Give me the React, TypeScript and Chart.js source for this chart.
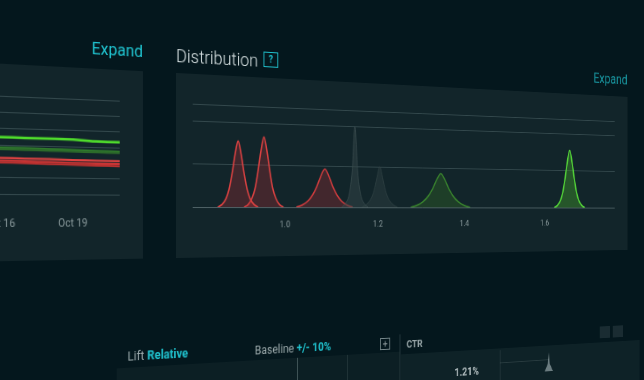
import React, { useEffect, useRef } from "react";
import { Chart, registerables } from "chart.js";

Chart.register(...registerables);

// ---------- Distribution chart data ----------
const xTickValues = [1.0, 1.2, 1.4, 1.6];
const distXMin = 0.816;
const distXMax = 1.786;
const distYMax = 2.4;

const red1 = [[0.865, 0], [0.873, 0.06], [0.881, 0.2], [0.887, 0.42], [0.893, 0.8], [0.899, 1.25], [0.905, 1.56], [0.911, 1.25], [0.917, 0.8], [0.923, 0.42], [0.929, 0.2], [0.937, 0.06], [0.945, 0]];
const red2 = [[0.917, 0], [0.925, 0.06], [0.933, 0.22], [0.939, 0.45], [0.945, 0.86], [0.951, 1.35], [0.957, 1.68], [0.963, 1.35], [0.969, 0.86], [0.975, 0.45], [0.981, 0.22], [0.989, 0.06], [0.997, 0]];
const red3 = [[1.024, 0], [1.036, 0.05], [1.048, 0.15], [1.058, 0.3], [1.066, 0.48], [1.074, 0.72], [1.084, 0.935], [1.094, 0.72], [1.102, 0.48], [1.11, 0.3], [1.12, 0.15], [1.132, 0.05], [1.144, 0]];
const gray1 = [[1.12, 0], [1.13, 0.12], [1.137, 0.35], [1.143, 0.9], [1.149, 2.0], [1.155, 0.9], [1.161, 0.35], [1.168, 0.12], [1.178, 0]];
const gray2 = [[1.164, 0], [1.175, 0.08], [1.186, 0.25], [1.193, 0.5], [1.199, 0.82], [1.204, 1.02], [1.209, 0.82], [1.215, 0.5], [1.222, 0.25], [1.233, 0.08], [1.244, 0]];
const green1 = [[1.274, 0], [1.288, 0.05], [1.302, 0.14], [1.314, 0.28], [1.324, 0.46], [1.334, 0.7], [1.344, 0.865], [1.354, 0.7], [1.364, 0.46], [1.374, 0.28], [1.386, 0.14], [1.4, 0.05], [1.414, 0]];
const green2 = [[1.625, 0], [1.633, 0.06], [1.641, 0.2], [1.647, 0.42], [1.653, 0.8], [1.659, 1.25], [1.665, 1.55], [1.671, 1.25], [1.677, 0.8], [1.683, 0.42], [1.689, 0.2], [1.697, 0.06], [1.705, 0]];

// ---------- Trend chart data (left panel) ----------
const trendDates = ["Oct 10", "Oct 11", "Oct 12", "Oct 13", "Oct 14", "Oct 15", "Oct 16", "Oct 17", "Oct 18", "Oct 19", "Oct 20", "Oct 21"];
const trendGreen = [3.52, 3.5, 3.51, 3.5, 3.49, 3.48, 3.47, 3.46, 3.45, 3.44, 3.36, 3.34];
const trendDarkGreenA = [2.9, 2.89, 2.88, 2.87, 2.86, 2.85, 2.84, 2.83, 2.81, 2.79, 2.76, 2.74];
const trendDarkGreenB = [2.8, 2.79, 2.78, 2.77, 2.76, 2.75, 2.74, 2.73, 2.71, 2.69, 2.67, 2.65];
const trendRedA = [2.26, 2.25, 2.24, 2.23, 2.22, 2.21, 2.2, 2.19, 2.18, 2.16, 2.14, 2.13];
const trendRedB = [2.1, 2.09, 2.08, 2.07, 2.06, 2.05, 2.04, 2.02, 2.0, 1.98, 1.96, 1.95];
const trendRedC = [1.98, 1.97, 1.96, 1.95, 1.95, 1.94, 1.93, 1.91, 1.88, 1.86, 1.83, 1.81];

const BG = "#04171d";
const PANEL = "#12252a";
const TEAL = "#1fc3cf";
const GRID = "rgba(120,145,148,0.32)";

const pts = (arr: number[][]) => arr.map(([x, y]) => ({ x, y }));

function DistributionChart() {
  const ref = useRef<HTMLCanvasElement | null>(null);
  useEffect(() => {
    if (!ref.current) return;
    const peak = (data: number[][], border: string, fill: string, bw = 1.6) => ({
      data: pts(data),
      borderColor: border,
      backgroundColor: fill,
      fill: "origin",
      pointRadius: 0,
      borderWidth: bw,
      cubicInterpolationMode: "monotone" as const,
    });
    const chart = new Chart(ref.current, {
      type: "line",
      data: {
        datasets: [
          peak(gray1, "rgba(62,80,82,0.7)", "rgba(50,68,70,0.55)", 1),
          peak(gray2, "rgba(52,70,72,0.7)", "rgba(42,60,62,0.55)", 1),
          peak(red1, "#dc4242", "rgba(180,48,52,0.3)"),
          peak(red2, "#dc4242", "rgba(180,48,52,0.3)"),
          peak(red3, "#d03c3e", "rgba(180,48,52,0.3)"),
          peak(green1, "#3a852e", "rgba(50,105,38,0.38)"),
          peak(green2, "#52d038", "rgba(66,155,44,0.42)", 2),
        ],
      },
      options: {
        animation: false,
        responsive: false,
        maintainAspectRatio: false,
        layout: { padding: { left: 18, right: 20, top: 30, bottom: 21 } },
        plugins: { legend: { display: false }, tooltip: { enabled: false } },
        scales: {
          x: {
            type: "linear",
            min: distXMin,
            max: distXMax,
            grid: { display: false },
            border: { display: false },
            afterBuildTicks: (axis: any) => {
              axis.ticks = xTickValues.map((v) => ({ value: v }));
            },
            afterFit: (s: any) => {
              s.height = 30;
            },
            ticks: {
              color: "#8a9a9c",
              padding: 5,
              font: { size: 9, family: "Roboto" },
              callback: (v: any) => Number(v).toFixed(1),
            },
          },
          y: {
            min: 0,
            max: distYMax,
            afterFit: (s: any) => {
              s.width = 0;
            },
            ticks: { display: false, stepSize: 1 },
            border: { display: false },
            grid: {
              drawTicks: false,
              color: (c: any) => (c.tick && c.tick.value === 0 ? "rgba(140,160,162,0.5)" : GRID),
            },
          },
        },
      },
    });
    return () => chart.destroy();
  }, []);
  return <canvas ref={ref} width={585} height={185} style={{ display: "block" }} />;
}

function TrendChart() {
  const ref = useRef<HTMLCanvasElement | null>(null);
  useEffect(() => {
    if (!ref.current) return;
    const line = (data: number[], color: string, bw = 2) => ({
      data,
      borderColor: color,
      backgroundColor: color,
      pointRadius: 0,
      borderWidth: bw,
      tension: 0.2,
    });
    const chart = new Chart(ref.current, {
      type: "line",
      data: {
        labels: trendDates,
        datasets: [
          line(trendRedC, "#b8302f"),
          line(trendRedB, "#c83535"),
          line(trendRedA, "#e04242"),
          line(trendDarkGreenB, "#2c6a2a"),
          line(trendDarkGreenA, "#2f7a2c"),
          line(trendGreen, "#4fdc2c", 2.5),
        ],
      },
      options: {
        animation: false,
        responsive: false,
        maintainAspectRatio: false,
        layout: { padding: { left: 118, right: 24, top: 30, bottom: 23 } },
        plugins: { legend: { display: false }, tooltip: { enabled: false } },
        scales: {
          x: {
            grid: { display: false },
            border: { display: false },
            afterFit: (s: any) => {
              s.height = 40;
            },
            ticks: {
              autoSkip: false,
              maxRotation: 0,
              color: "#8a9a9c",
              padding: 14,
              font: { size: 10, family: "Roboto" },
              callback: (_v: any, i: number) => (i % 3 === 0 ? trendDates[i] : ""),
            },
          },
          y: {
            min: 0,
            max: 6,
            afterFit: (s: any) => {
              s.width = 0;
            },
            ticks: { display: false, stepSize: 1 },
            border: { display: false },
            grid: { drawTicks: false, color: GRID },
          },
        },
      },
    });
    return () => chart.destroy();
  }, []);
  return <canvas ref={ref} width={401} height={185} style={{ display: "block" }} />;
}

const abs = (left: number, top: number, extra: React.CSSProperties = {}): React.CSSProperties => ({
  position: "absolute",
  left,
  top,
  ...extra,
});

export default function App() {
  const font = "Roboto, 'Noto Sans', sans-serif";
  return (
    <div style={{ position: "fixed", inset: 0, overflow: "hidden", background: BG, fontFamily: font }}>
      <div
        style={{
          position: "absolute",
          left: 0,
          top: 0,
          width: 900,
          height: 440,
          transformOrigin: "176px 211px",
          transform: "perspective(1000px) rotateY(21deg)",
          filter: "blur(0.35px)",
        }}
      >
        {/* Left trend panel */}
        <div style={abs(-260, 73, { width: 401, height: 185, background: PANEL })}>
          <TrendChart />
        </div>
        <div style={abs(41, 44, { width: 100, textAlign: "right", color: TEAL, fontSize: 16, lineHeight: "20px" })}>Expand</div>

        {/* Distribution title */}
        <div style={abs(176, 45, { color: "#d6e0e1", fontSize: 18, fontWeight: 300, lineHeight: "22px" })}>Distribution</div>
        <div
          style={abs(273, 46, {
            width: 15,
            height: 14,
            border: `1.5px solid ${TEAL}`,
            color: TEAL,
            fontSize: 10,
            fontWeight: 700,
            lineHeight: "14px",
            textAlign: "center",
          })}
        >
          ?
        </div>
        <div style={abs(661, 43, { width: 100, textAlign: "right", color: TEAL, fontSize: 16, lineHeight: "20px", opacity: 0.75 })}>Expand</div>

        {/* Distribution panel */}
        <div style={abs(176, 73, { width: 585, height: 185, background: PANEL })}>
          <DistributionChart />
        </div>

        {/* Bottom section */}
        <div style={abs(114, 365, { width: 324, height: 80, background: "#0c1f24" })} />
        <div style={abs(440, 368, { width: 340, height: 80, background: "#0e2227" })} />
        <div style={abs(312, 365, { width: 1, height: 80, background: "rgba(160,180,180,0.35)" })} />
        <div style={abs(372, 365, { width: 1, height: 80, background: "rgba(160,180,180,0.15)" })} />
        <div style={abs(438, 346, { width: 1, height: 100, background: "rgba(160,180,180,0.25)" })} />
        <div style={abs(572, 370, { width: 1, height: 70, background: "rgba(160,180,180,0.18)" })} />
        <div style={abs(572, 384, { width: 70, height: 1, background: "rgba(160,180,180,0.18)" })} />
        <div style={abs(125, 346, { fontSize: 12, lineHeight: "16px", color: "#9aa8aa", whiteSpace: "nowrap" })}>
          Lift <span style={{ color: TEAL, fontWeight: 700 }}>Relative</span>
        </div>
        <div style={abs(263, 347, { fontSize: 12, lineHeight: "16px", color: "#9aa8aa", whiteSpace: "nowrap" })}>
          Baseline <span style={{ color: TEAL, fontWeight: 700 }}>+/- 10%</span>
        </div>
        <div
          style={abs(413, 349, {
            width: 11,
            height: 11,
            border: "1px solid rgba(170,185,188,0.7)",
            color: "rgba(190,200,202,0.8)",
            fontSize: 11,
            lineHeight: "11px",
            textAlign: "center",
          })}
        >
          +
        </div>
        <div style={abs(447, 350, { fontSize: 11, lineHeight: "16px", color: "#9aa8aa", fontWeight: 700 })}>CTR</div>
        <div style={abs(510, 384, { fontSize: 12, lineHeight: "16px", color: "#b5c0c2", fontWeight: 700 })}>1.21%</div>
        <div
          style={abs(636, 376, {
            width: 12,
            height: 22,
            background: "rgba(170,185,188,0.6)",
            clipPath: "polygon(50% 0, 62% 60%, 100% 100%, 0 100%, 38% 60%)",
          })}
        />
        <div style={abs(718, 349, { width: 16, height: 14, background: "rgba(120,140,142,0.18)" })} />
        <div style={abs(738, 349, { width: 16, height: 14, background: "rgba(120,140,142,0.18)" })} />
      </div>
    </div>
  );
}
